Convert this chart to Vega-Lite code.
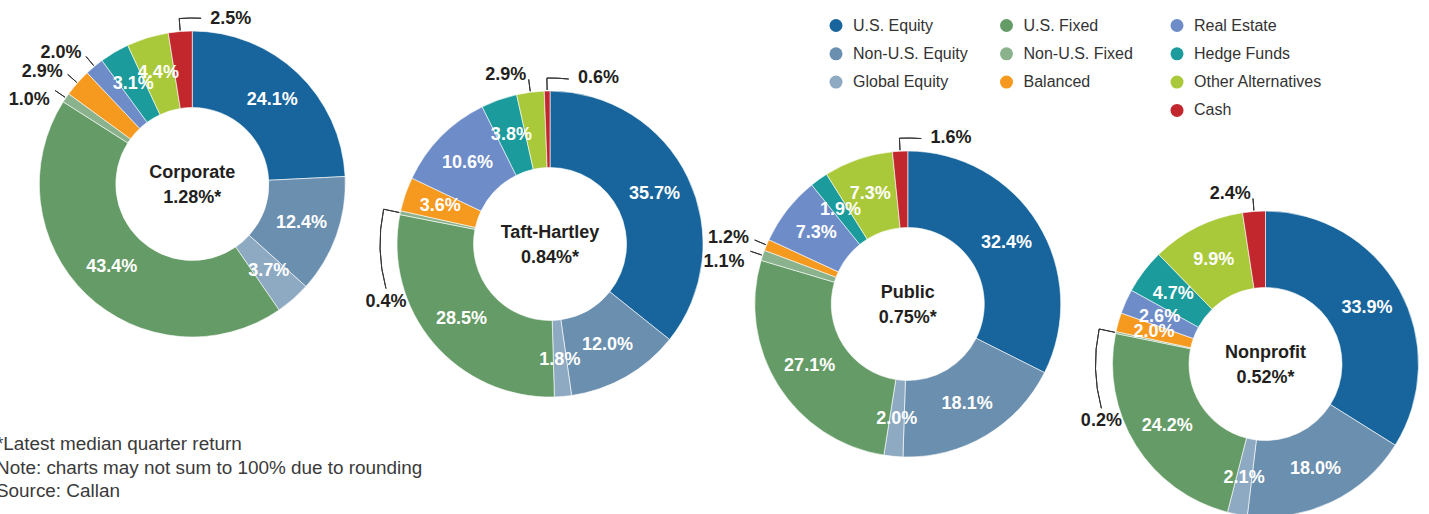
{
  "$schema": "https://vega.github.io/schema/vega-lite/v6.json",
  "width": 1429,
  "height": 514,
  "padding": 0,
  "autosize": {"type": "none"},
  "background": "white",
  "config": {"view": {"stroke": null}},
  "title": {
    "text": ["*Latest median quarter return", "Note: charts may not sum to 100% due to rounding", "Source: Callan"],
    "orient": "bottom", "anchor": "start", "frame": "group", "offset": -83, "dx": -4,
    "baseline": "top", "align": "left", "fontSize": 18.9, "fontWeight": "normal",
    "font": "Liberation Sans", "color": "#3a3a3a", "lineHeight": 23.5
  },
  "datasets": {
    "slices": [
      {"group": "Corporate", "asset": "U.S. Equity", "idx": 1, "value": 24.1, "callout": "in"},
      {"group": "Corporate", "asset": "Non-U.S. Equity", "idx": 2, "value": 12.4, "callout": "in"},
      {"group": "Corporate", "asset": "Global Equity", "idx": 3, "value": 3.7, "callout": "in"},
      {"group": "Corporate", "asset": "U.S. Fixed", "idx": 4, "value": 43.4, "callout": "in"},
      {"group": "Corporate", "asset": "Non-U.S. Fixed", "idx": 5, "value": 1.0, "callout": "leftlow"},
      {"group": "Corporate", "asset": "Balanced", "idx": 6, "value": 2.9, "callout": "left"},
      {"group": "Corporate", "asset": "Real Estate", "idx": 7, "value": 2.0, "callout": "left"},
      {"group": "Corporate", "asset": "Hedge Funds", "idx": 8, "value": 3.1, "callout": "in"},
      {"group": "Corporate", "asset": "Other Alternatives", "idx": 9, "value": 4.4, "callout": "in"},
      {"group": "Corporate", "asset": "Cash", "idx": 10, "value": 2.5, "callout": "right"},
      {"group": "Taft-Hartley", "asset": "U.S. Equity", "idx": 1, "value": 35.7, "callout": "in"},
      {"group": "Taft-Hartley", "asset": "Non-U.S. Equity", "idx": 2, "value": 12.0, "callout": "in"},
      {"group": "Taft-Hartley", "asset": "Global Equity", "idx": 3, "value": 1.8, "callout": "in"},
      {"group": "Taft-Hartley", "asset": "U.S. Fixed", "idx": 4, "value": 28.5, "callout": "in"},
      {"group": "Taft-Hartley", "asset": "Non-U.S. Fixed", "idx": 5, "value": 0.4, "callout": "drop"},
      {"group": "Taft-Hartley", "asset": "Balanced", "idx": 6, "value": 3.6, "callout": "in"},
      {"group": "Taft-Hartley", "asset": "Real Estate", "idx": 7, "value": 10.6, "callout": "in"},
      {"group": "Taft-Hartley", "asset": "Hedge Funds", "idx": 8, "value": 3.8, "callout": "in"},
      {"group": "Taft-Hartley", "asset": "Other Alternatives", "idx": 9, "value": 2.9, "callout": "left"},
      {"group": "Taft-Hartley", "asset": "Cash", "idx": 10, "value": 0.6, "callout": "right"},
      {"group": "Public", "asset": "U.S. Equity", "idx": 1, "value": 32.4, "callout": "in"},
      {"group": "Public", "asset": "Non-U.S. Equity", "idx": 2, "value": 18.1, "callout": "in"},
      {"group": "Public", "asset": "Global Equity", "idx": 3, "value": 2.0, "callout": "in"},
      {"group": "Public", "asset": "U.S. Fixed", "idx": 4, "value": 27.1, "callout": "in"},
      {"group": "Public", "asset": "Non-U.S. Fixed", "idx": 5, "value": 1.1, "callout": "leftlow"},
      {"group": "Public", "asset": "Balanced", "idx": 6, "value": 1.2, "callout": "left"},
      {"group": "Public", "asset": "Real Estate", "idx": 7, "value": 7.3, "callout": "in"},
      {"group": "Public", "asset": "Hedge Funds", "idx": 8, "value": 1.9, "callout": "in"},
      {"group": "Public", "asset": "Other Alternatives", "idx": 9, "value": 7.3, "callout": "in"},
      {"group": "Public", "asset": "Cash", "idx": 10, "value": 1.6, "callout": "right"},
      {"group": "Nonprofit", "asset": "U.S. Equity", "idx": 1, "value": 33.9, "callout": "in"},
      {"group": "Nonprofit", "asset": "Non-U.S. Equity", "idx": 2, "value": 18.0, "callout": "in"},
      {"group": "Nonprofit", "asset": "Global Equity", "idx": 3, "value": 2.1, "callout": "in"},
      {"group": "Nonprofit", "asset": "U.S. Fixed", "idx": 4, "value": 24.2, "callout": "in"},
      {"group": "Nonprofit", "asset": "Non-U.S. Fixed", "idx": 5, "value": 0.2, "callout": "drop"},
      {"group": "Nonprofit", "asset": "Balanced", "idx": 6, "value": 2.0, "callout": "in"},
      {"group": "Nonprofit", "asset": "Real Estate", "idx": 7, "value": 2.6, "callout": "in"},
      {"group": "Nonprofit", "asset": "Hedge Funds", "idx": 8, "value": 4.7, "callout": "in"},
      {"group": "Nonprofit", "asset": "Other Alternatives", "idx": 9, "value": 9.9, "callout": "in"},
      {"group": "Nonprofit", "asset": "Cash", "idx": 10, "value": 2.4, "callout": "left"}
    ],
    "groups": [
      {"group": "Corporate", "ret": "1.28%*"},
      {"group": "Taft-Hartley", "ret": "0.84%*"},
      {"group": "Public", "ret": "0.75%*"},
      {"group": "Nonprofit", "ret": "0.52%*"}
    ]
  },
  "encoding": {
    "x": {"field": "group", "type": "nominal", "axis": null,
      "scale": {"type": "point", "domain": ["Corporate", "Taft-Hartley", "Public", "Nonprofit"], "range": [192.3, 1265.5], "padding": 0}},
    "y": {"field": "group", "type": "nominal", "axis": null,
      "scale": {"type": "point", "domain": ["Corporate", "Taft-Hartley", "Public", "Nonprofit"], "range": [184, 364], "padding": 0}}
  },
  "layer": [
    {
      "data": {"name": "slices"},
      "transform": [
        {"stack": "value", "groupby": ["group"], "sort": [{"field": "idx", "order": "ascending"}], "offset": "normalize", "as": ["s0", "s1"]}
      ],
      "mark": {"type": "arc", "radius": 153, "radius2": 76.5, "stroke": "white", "strokeWidth": 0.6},
      "encoding": {
        "theta": {"field": "s0", "type": "quantitative", "scale": {"domain": [0, 1], "range": [0, 6.283185307]}},
        "theta2": {"field": "s1"},
        "color": {
          "field": "asset", "type": "nominal",
          "scale": {
            "domain": ["U.S. Equity", "Non-U.S. Equity", "Global Equity", " ", "U.S. Fixed", "Non-U.S. Fixed", "Balanced", "  ", "Real Estate", "Hedge Funds", "Other Alternatives", "Cash"],
            "range": ["#17659c", "#6b8fae", "#8eaac2", "rgba(0,0,0,0)", "#659b66", "#8ab28c", "#f5991f", "rgba(0,0,0,0)", "#6e8cc8", "#1b9b9b", "#a9c83a", "#c1272d"]
          },
          "legend": {
            "title": null, "orient": "none", "legendX": 828, "legendY": 17.5, "columns": 3,
            "gridAlign": "all", "columnPadding": 16.5, "rowPadding": 12.3, "padding": 0,
            "symbolType": "circle", "symbolSize": 169, "symbolStrokeWidth": 0,
            "labelFont": "Liberation Sans", "labelFontSize": 16, "labelColor": "#333333",
            "labelOffset": 9, "labelLimit": 200
          }
        }
      }
    },
    {
      "data": {"name": "slices"},
      "transform": [
        {"stack": "value", "groupby": ["group"], "sort": [{"field": "idx", "order": "ascending"}], "offset": "normalize", "as": ["s0", "s1"]},
        {"calculate": "(datum.s0 + datum.s1) / 2", "as": "mid"},
        {"calculate": "format(datum.value, '.1f') + '%'", "as": "lab"},
        {"filter": "datum.callout == 'in'"}
      ],
      "mark": {"type": "text", "radius": 116, "font": "Liberation Sans", "fontWeight": "bold", "fontSize": 18, "color": "white", "align": "center", "baseline": "middle"},
      "encoding": {
        "theta": {"field": "mid", "type": "quantitative", "scale": {"domain": [0, 1], "range": [0, 6.283185307]}},
        "text": {"field": "lab", "type": "nominal"}
      }
    },
    {
      "data": {"name": "slices"},
      "transform": [
        {"stack": "value", "groupby": ["group"], "sort": [{"field": "idx", "order": "ascending"}], "offset": "normalize", "as": ["s0", "s1"]},
        {"calculate": "(datum.s0 + datum.s1) / 2", "as": "mid"},
        {"filter": "datum.callout != 'in' && datum.callout != 'drop'"}
      ],
      "mark": {"type": "arc", "radius": 154, "radius2": 166, "stroke": "#333333", "strokeWidth": 1, "fill": null},
      "encoding": {
        "theta": {"field": "mid", "type": "quantitative", "scale": {"domain": [0, 1], "range": [0, 6.283185307]}},
        "theta2": {"field": "mid"}
      }
    },
    {
      "data": {"name": "slices"},
      "transform": [
        {"stack": "value", "groupby": ["group"], "sort": [{"field": "idx", "order": "ascending"}], "offset": "normalize", "as": ["s0", "s1"]},
        {"calculate": "(datum.s0 + datum.s1) / 2", "as": "mid"},
        {"filter": "datum.callout == 'drop'"}
      ],
      "mark": {"type": "arc", "radius": 154, "radius2": 170, "stroke": "#333333", "strokeWidth": 1, "fill": null},
      "encoding": {
        "theta": {"field": "mid", "type": "quantitative", "scale": {"domain": [0, 1], "range": [0, 6.283185307]}},
        "theta2": {"field": "mid"}
      }
    },
    {
      "data": {"name": "slices"},
      "transform": [
        {"stack": "value", "groupby": ["group"], "sort": [{"field": "idx", "order": "ascending"}], "offset": "normalize", "as": ["s0", "s1"]},
        {"calculate": "(datum.s0 + datum.s1) / 2", "as": "mid"},
        {"calculate": "datum.mid - 0.075", "as": "dropEnd"},
        {"filter": "datum.callout == 'drop'"}
      ],
      "mark": {"type": "arc", "radius": 170, "radius2": 170, "stroke": "#333333", "strokeWidth": 1, "fill": null},
      "encoding": {
        "theta": {"field": "dropEnd", "type": "quantitative", "scale": {"domain": [0, 1], "range": [0, 6.283185307]}},
        "theta2": {"field": "mid"}
      }
    },
    {
      "data": {"name": "slices"},
      "transform": [
        {"stack": "value", "groupby": ["group"], "sort": [{"field": "idx", "order": "ascending"}], "offset": "normalize", "as": ["s0", "s1"]},
        {"calculate": "(datum.s0 + datum.s1) / 2", "as": "mid"},
        {"calculate": "datum.mid - 0.075", "as": "dropEnd"},
        {"calculate": "format(datum.value, '.1f') + '%'", "as": "lab"},
        {"filter": "datum.callout == 'drop'"}
      ],
      "mark": {"type": "text", "radius": 170, "dy": 4, "font": "Liberation Sans", "fontWeight": "bold", "fontSize": 18, "color": "#231f20", "align": "center", "baseline": "top"},
      "encoding": {
        "theta": {"field": "dropEnd", "type": "quantitative", "scale": {"domain": [0, 1], "range": [0, 6.283185307]}},
        "text": {"field": "lab", "type": "nominal"}
      }
    },
    {
      "data": {"name": "slices"},
      "transform": [
        {"stack": "value", "groupby": ["group"], "sort": [{"field": "idx", "order": "ascending"}], "offset": "normalize", "as": ["s0", "s1"]},
        {"calculate": "(datum.s0 + datum.s1) / 2", "as": "mid"},
        {"calculate": "datum.mid + 0.021", "as": "midEnd"},
        {"filter": "datum.callout == 'right'"}
      ],
      "mark": {"type": "arc", "radius": 166, "radius2": 166, "stroke": "#333333", "strokeWidth": 1, "fill": null},
      "encoding": {
        "theta": {"field": "mid", "type": "quantitative", "scale": {"domain": [0, 1], "range": [0, 6.283185307]}},
        "theta2": {"field": "midEnd"}
      }
    },
    {
      "data": {"name": "slices"},
      "transform": [
        {"stack": "value", "groupby": ["group"], "sort": [{"field": "idx", "order": "ascending"}], "offset": "normalize", "as": ["s0", "s1"]},
        {"calculate": "(datum.s0 + datum.s1) / 2", "as": "mid"},
        {"calculate": "format(datum.value, '.1f') + '%'", "as": "lab"},
        {"filter": "datum.callout == 'left'"}
      ],
      "mark": {"type": "text", "radius": 170, "dx": -2, "font": "Liberation Sans", "fontWeight": "bold", "fontSize": 18, "color": "#231f20", "align": "right", "baseline": "middle"},
      "encoding": {
        "theta": {"field": "mid", "type": "quantitative", "scale": {"domain": [0, 1], "range": [0, 6.283185307]}},
        "text": {"field": "lab", "type": "nominal"}
      }
    },
    {
      "data": {"name": "slices"},
      "transform": [
        {"stack": "value", "groupby": ["group"], "sort": [{"field": "idx", "order": "ascending"}], "offset": "normalize", "as": ["s0", "s1"]},
        {"calculate": "(datum.s0 + datum.s1) / 2", "as": "mid"},
        {"calculate": "format(datum.value, '.1f') + '%'", "as": "lab"},
        {"filter": "datum.callout == 'leftlow'"}
      ],
      "mark": {"type": "text", "radius": 170, "dx": -2, "dy": 3, "font": "Liberation Sans", "fontWeight": "bold", "fontSize": 18, "color": "#231f20", "align": "right", "baseline": "top"},
      "encoding": {
        "theta": {"field": "mid", "type": "quantitative", "scale": {"domain": [0, 1], "range": [0, 6.283185307]}},
        "text": {"field": "lab", "type": "nominal"}
      }
    },
    {
      "data": {"name": "slices"},
      "transform": [
        {"stack": "value", "groupby": ["group"], "sort": [{"field": "idx", "order": "ascending"}], "offset": "normalize", "as": ["s0", "s1"]},
        {"calculate": "(datum.s0 + datum.s1) / 2", "as": "mid"},
        {"calculate": "format(datum.value, '.1f') + '%'", "as": "lab"},
        {"filter": "datum.callout == 'right'"}
      ],
      "mark": {"type": "text", "radius": 166, "dx": 31, "font": "Liberation Sans", "fontWeight": "bold", "fontSize": 18, "color": "#231f20", "align": "left", "baseline": "middle"},
      "encoding": {
        "theta": {"field": "mid", "type": "quantitative", "scale": {"domain": [0, 1], "range": [0, 6.283185307]}},
        "text": {"field": "lab", "type": "nominal"}
      }
    },
    {
      "data": {"name": "groups"},
      "mark": {"type": "text", "dy": -11, "font": "Liberation Sans", "fontWeight": "bold", "fontSize": 18, "color": "#231f20", "align": "center", "baseline": "middle"},
      "encoding": {"text": {"field": "group", "type": "nominal"}}
    },
    {
      "data": {"name": "groups"},
      "mark": {"type": "text", "dy": 14, "font": "Liberation Sans", "fontWeight": "bold", "fontSize": 18, "color": "#231f20", "align": "center", "baseline": "middle"},
      "encoding": {"text": {"field": "ret", "type": "nominal"}}
    }
  ]
}
